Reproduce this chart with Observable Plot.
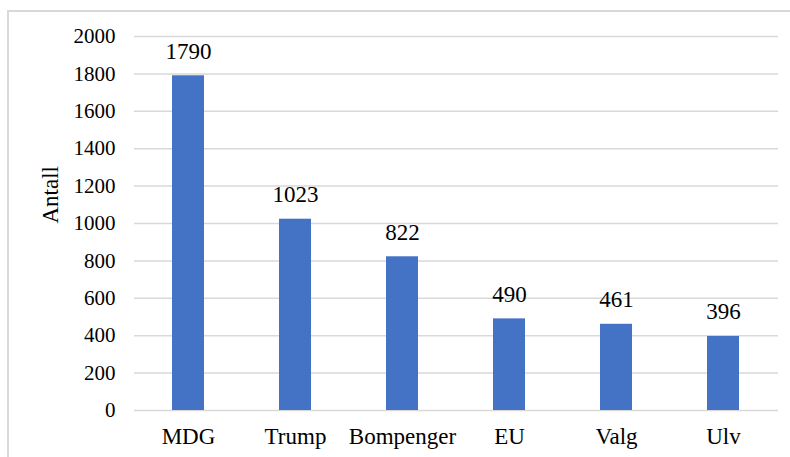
<!DOCTYPE html>
<html><head><meta charset="utf-8">
<script src="https://cdn.jsdelivr.net/npm/d3@7"></script>
<script src="https://cdn.jsdelivr.net/npm/@observablehq/plot@0.6"></script>
<style>
body{margin:0;background:#fff;overflow:hidden;}
#frame{position:absolute;left:7px;top:10px;width:800px;height:460px;border:2px solid #d9d9d9;box-sizing:border-box;}
#chart{position:absolute;left:0;top:0;}
</style></head>
<body><div id="frame"></div><div id="chart"></div>
<script>
const categories = ["MDG","Trump","Bompenger","EU","Valg","Ulv"];
const values = [1790,1023,822,490,461,396];
const yTicks = [0,200,400,600,800,1000,1200,1400,1600,1800,2000];
const data = categories.map((c,i)=>({cat:c, val:values[i]}));
const FONT = "'Liberation Serif', 'Times New Roman', serif";
const chart = Plot.plot({
  width:790, height:457,
  marginLeft:134, marginRight:12, marginTop:36, marginBottom:47,
  style:{fontFamily:FONT, fontSize:"21px", color:"#000", background:"transparent"},
  x:{domain:categories, paddingInner:0.7, paddingOuter:0.35, label:null},
  y:{domain:[0,2000], label:null},
  marks:[
    Plot.gridY(yTicks,{stroke:"#d9d9d9", strokeOpacity:1, strokeWidth:1.5}),
    Plot.barY(data,{x:"cat", y:"val", fill:"#4472C4"}),
    Plot.text(data,{x:"cat", y:"val", text:d=>String(d.val), dy:-17, lineAnchor:"bottom", fontSize:23, fontFamily:FONT, fill:"#000"}),
    Plot.axisX({tickSize:0, tickPadding:17, fontSize:23, fontFamily:FONT}),
    Plot.axisY({ticks:yTicks, tickFormat:d=>String(d), tickSize:0, tickPadding:19, fontSize:21, fontFamily:FONT}),
    Plot.text(["Antall"],{frameAnchor:"left", dx:-84, rotate:-90, fontSize:23, fontFamily:FONT, fill:"#000"})
  ]
});
d3.select(chart).selectAll("text").style("font-family", FONT);
document.getElementById("chart").appendChild(chart);
</script></body></html>
